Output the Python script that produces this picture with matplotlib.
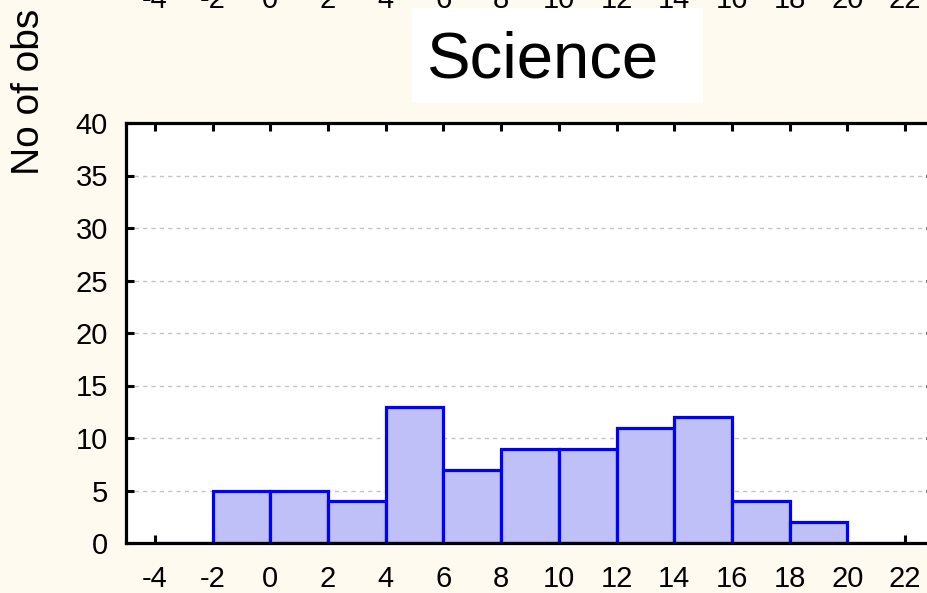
import numpy as np
import matplotlib
matplotlib.use("Agg")
import matplotlib.pyplot as plt
from matplotlib.patches import Rectangle

plt.rcParams['font.family'] = ['Liberation Sans', 'DejaVu Sans']

# histogram of the "Science" scores
bin_edges = [-4, -2, 0, 2, 4, 6, 8, 10, 12, 14, 16, 18, 20, 22]
counts = [0, 5, 5, 4, 13, 7, 9, 9, 11, 12, 4, 2, 0]
x_ticks = list(range(-4, 23, 2))
y_ticks = [0, 5, 10, 15, 20, 25, 30, 35, 40]
title = "Science"
y_label = "No of obs"

BG = '#fffaef'
W, H = 927, 593

fig = plt.figure(figsize=(W / 100, H / 100), dpi=100, facecolor=BG)

# main panel (right edge runs a little past the figure, as in the original crop)
ax = fig.add_axes([126 / W, 50 / H, 808 / W, 420 / H])
ax.set_facecolor('white')

lefts = np.array(bin_edges[:-1])
widths = np.diff(bin_edges)
ax.bar(lefts, counts, width=widths, align='edge', color='#bfc0f7',
       edgecolor='#0000ff', linewidth=2.3, zorder=3)

ax.set_xlim(-5, 23)
ax.set_ylim(0, 40)
ax.set_xticks(x_ticks)
ax.set_yticks(y_ticks)
ax.set_xticklabels([str(t) for t in x_ticks])
ax.set_yticklabels([str(t) for t in y_ticks])

for s in ax.spines.values():
    s.set_linewidth(2.3)
    s.set_color('black')
    s.set_zorder(4)

ax.tick_params(axis='both', direction='in', length=6, width=2.2,
               top=True, right=True, labelsize=21, color='black')
ax.tick_params(axis='x', pad=16)
ax.tick_params(axis='y', pad=13)

ax.yaxis.grid(True, linestyle=(0, (3, 3)), color='#c4c4c4', linewidth=1, zorder=0)
ax.set_axisbelow(True)

# tick labels of the panel above, mostly cut off by the figure edge
ax_up = fig.add_axes([126 / W, 1 + 14 / H, 808 / W, 0.2])
ax_up.set_xlim(-5, 23)
ax_up.set_xticks(x_ticks)
ax_up.set_xticklabels([str(t) for t in x_ticks])
ax_up.set_yticks([])
ax_up.tick_params(axis='x', length=0, pad=0, labelsize=21)
for s in ax_up.spines.values():
    s.set_visible(False)
ax_up.patch.set_alpha(0)

# title in a white box
fig.patches.append(Rectangle((412 / W, 1 - 103 / H), 291 / W, 95 / H,
                             transform=fig.transFigure, facecolor='white',
                             edgecolor='none'))
fig.text(543 / W, 1 - 60 / H, title, fontsize=47, ha='center', va='center')

fig.text(29 / W, 1 - 92 / H, y_label, fontsize=28, rotation=90,
         ha='center', va='center')

fig.savefig('out.png', dpi=100, facecolor=BG)
